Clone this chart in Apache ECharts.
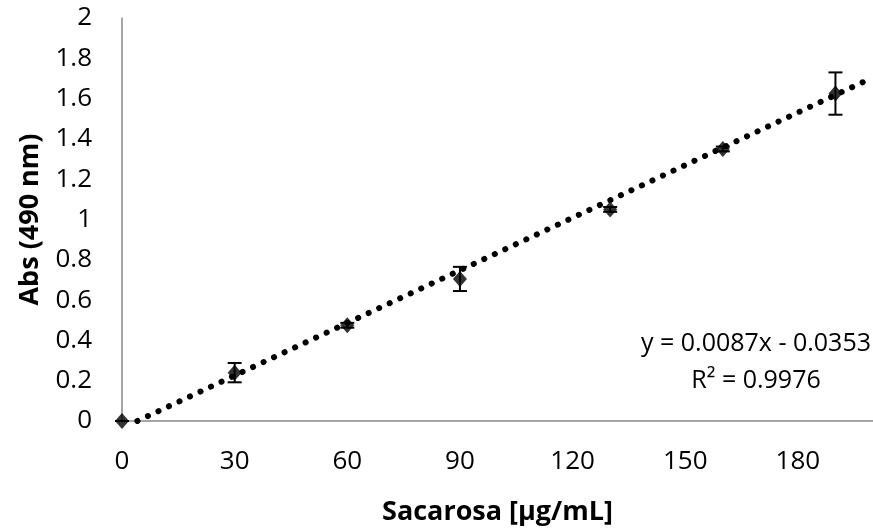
<!DOCTYPE html>
<html>
<head>
<meta charset="utf-8">
<script src="https://cdn.jsdelivr.net/npm/echarts@6/dist/echarts.min.js"></script>
<style>
html, body { margin: 0; padding: 0; background: #fff; }
#chart { width: 873px; height: 531px; }
</style>
</head>
<body>
<div id="chart"></div>
<script>
// Sacarosa standard curve
var conc = [0, 30, 60, 90, 130, 160, 190];
var absVals = [0, 0.24, 0.475, 0.705, 1.05, 1.35, 1.625];
var absErr = [0, 0.048, 0.012, 0.06, 0.012, 0.012, 0.105];
// trendline endpoints
var trendX = [4.1, 200];
var trendY = [0, 1.705];
var eqText = 'y = 0.0087x - 0.0353';
var r2Text = 'R² = 0.9976';

var fontName = 'Open Sans';
var chart = echarts.init(document.getElementById('chart'));

var points = conc.map(function (c, i) { return [c, absVals[i]]; });
var bars = conc.map(function (c, i) { return [c, absVals[i] - absErr[i], absVals[i] + absErr[i]]; });
var trend = trendX.map(function (x, i) { return [x, trendY[i]]; });

var option = {
	animation: false,
	textStyle: { fontFamily: fontName, color: '#000' },
	grid: { left: 122, right: -5, top: 18, bottom: 110 },
	xAxis: {
		type: 'value',
		min: 0,
		max: 200,
		interval: 30,
		name: 'Sacarosa [µg/mL]',
		nameLocation: 'middle',
		nameGap: 78,
		nameTextStyle: { fontSize: 27, fontWeight: 'bold', color: '#000', fontFamily: fontName },
		axisLine: { lineStyle: { color: '#898989', width: 1.5 } },
		axisTick: { show: false },
		splitLine: { show: false },
		axisLabel: { fontSize: 26, color: '#000', margin: 28, showMaxLabel: false, fontFamily: fontName }
	},
	yAxis: {
		type: 'value',
		min: 0,
		max: 2,
		interval: 0.2,
		name: 'Abs (490 nm)',
		nameLocation: 'middle',
		nameGap: 78,
		nameTextStyle: { fontSize: 27, fontWeight: 'bold', color: '#000', fontFamily: fontName },
		axisLine: { show: true, lineStyle: { color: '#898989', width: 1.5 } },
		axisTick: { show: false },
		splitLine: { show: false },
		axisLabel: {
			fontSize: 26, color: '#000', margin: 30, fontFamily: fontName,
			formatter: function (v) { return String(Math.round(v * 10) / 10); }
		}
	},
	graphic: [
		{ type: 'text', x: 756, y: 344, style: { text: eqText, font: '25px "' + fontName + '"', fill: '#000', textAlign: 'center', textVerticalAlign: 'middle' } },
		{ type: 'text', x: 756, y: 381, style: { text: r2Text, font: '25px "' + fontName + '"', fill: '#000', textAlign: 'center', textVerticalAlign: 'middle' } }
	],
	series: [
		{
			type: 'line',
			data: trend,
			symbol: 'none',
			lineStyle: { color: '#000', width: 6, type: [0.1, 11.5], cap: 'round' },
			z: 2
		},
		{
			type: 'custom',
			data: bars,
			z: 3,
			renderItem: function (params, api) {
				var x = api.value(0);
				var lo = api.coord([x, api.value(1)]);
				var hi = api.coord([x, api.value(2)]);
				var cap = 7;
				var st = { stroke: '#000', lineWidth: 2 };
				return {
					type: 'group',
					children: [
						{ type: 'line', shape: { x1: lo[0], y1: lo[1], x2: hi[0], y2: hi[1] }, style: st },
						{ type: 'line', shape: { x1: lo[0] - cap, y1: lo[1], x2: lo[0] + cap, y2: lo[1] }, style: st },
						{ type: 'line', shape: { x1: hi[0] - cap, y1: hi[1], x2: hi[0] + cap, y2: hi[1] }, style: st }
					]
				};
			}
		},
		{
			type: 'scatter',
			data: points,
			symbol: 'diamond',
			symbolSize: [14, 16],
			itemStyle: { color: '#000' },
			z: 4
		}
	]
};

chart.setOption(option);
</script>
</body>
</html>
